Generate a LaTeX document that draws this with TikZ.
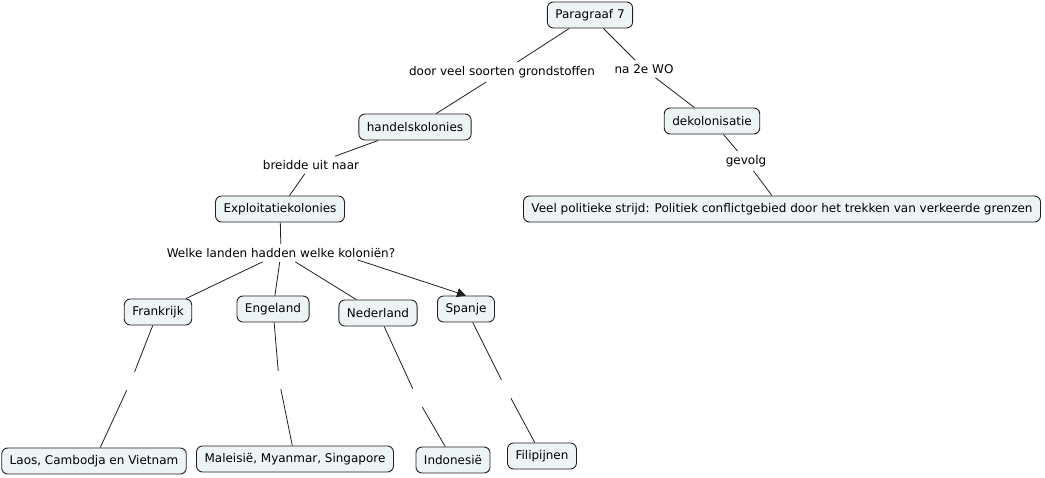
\documentclass[tikz,border=0pt]{standalone}
\usepackage{fontspec}
\setmainfont{DejaVu Sans}
\usetikzlibrary{arrows.meta}
\definecolor{conceptfill}{HTML}{EEF4F6}
\definecolor{conceptline}{HTML}{202020}
\begin{document}
\begin{tikzpicture}[x=1pt,y=-1pt,
    concept/.style={draw=conceptline, fill=conceptfill, rounded corners=6pt,
      inner xsep=8pt, minimum height=26pt, line width=0.9pt, font=\fontsize{12}{14}\selectfont},
    linkphrase/.style={inner sep=4pt, font=\fontsize{12}{14}\selectfont},
    blank/.style={inner sep=0pt, minimum size=18pt},
    connector/.style={draw=conceptline, line width=0.8pt}]
  \useasboundingbox (0,0) rectangle (1045,477);
  % concepts
  \node[concept] (par) at (590,15) {Paragraaf 7};
  \node[concept] (handel) at (415,127) {handelskolonies};
  \node[concept] (dekol) at (712,121) {dekolonisatie};
  \node[concept] (strijd) at (782,209) {Veel politieke strijd: Politiek conflictgebied door het trekken van verkeerde grenzen};
  \node[concept] (exploit) at (280,209) {Exploitatiekolonies};
  \node[concept] (fr) at (158,312) {Frankrijk};
  \node[concept] (en) at (273,309) {Engeland};
  \node[concept] (nl) at (378,313) {Nederland};
  \node[concept] (es) at (466,309) {Spanje};
  \node[concept] (laos) at (94,461) {Laos, Cambodja en Vietnam};
  \node[concept] (mal) at (295,459) {Maleisië, Myanmar, Singapore};
  \node[concept] (indo) at (453,460) {Indonesië};
  \node[concept] (fil) at (542,456) {Filipijnen};
  % linking phrases
  \node[linkphrase] (grond) at (502,72) {door veel soorten grondstoffen};
  \node[linkphrase] (wo) at (644,69) {na 2e WO};
  \node[linkphrase] (gevolg) at (746,161) {gevolg};
  \node[linkphrase] (breid) at (311,165) {breidde uit naar};
  \node[linkphrase] (welke) at (281,253) {Welke landen hadden welke koloniën?};
  \node[blank] (frgap) at (131,381) {};
  \node[blank] (engap) at (279,380) {};
  \node[blank] (nlgap) at (417,398) {};
  \node[blank] (esgap) at (506,389) {};
  % connectors
  \draw[connector] (par) -- (grond) -- (handel);
  \draw[connector] (par) -- (wo) -- (dekol);
  \draw[connector] (dekol) -- (gevolg) -- (strijd);
  \draw[connector] (handel) -- (breid) -- (exploit);
  \draw[connector] (exploit) -- (welke);
  \foreach \land in {fr,en,nl}
    \draw[connector] (welke) -- (\land);
  \draw[connector, -{Triangle[length=9pt,width=9pt]}] (welke.south east) ++(-42,-2) coordinate (welkeout) -- (es.north);
  \foreach \land/\kolonie in {fr/laos,en/mal,nl/indo,es/fil}
    \draw[connector] (\land) -- (\land gap) -- (\kolonie);
\end{tikzpicture}
\end{document}
